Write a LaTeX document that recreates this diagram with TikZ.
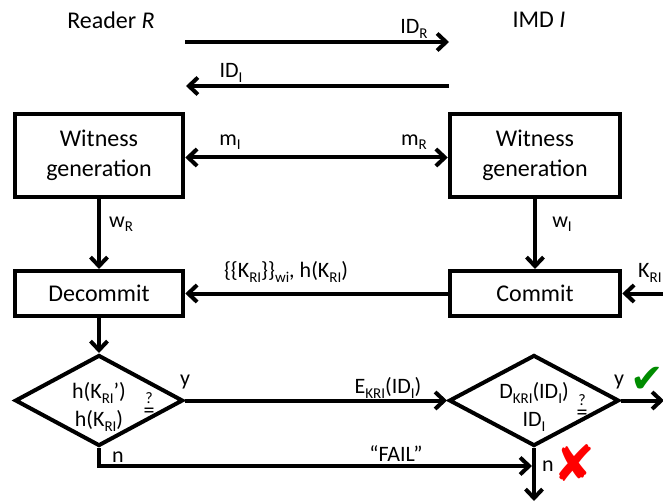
\documentclass[tikz,border=0pt]{standalone}
\usepackage{fontspec}
\setmainfont{Carlito}
\newfontfamily\symbolfont{DejaVu Sans}
\usepackage{xcolor}
\usetikzlibrary{shapes.geometric,arrows.meta,positioning,calc}
\definecolor{okgreen}{RGB}{0,140,0}
\definecolor{failred}{RGB}{255,0,0}
\newcommand{\lsub}[1]{\raisebox{-0.4ex}{\fontsize{15}{15}\selectfont #1}}

\begin{document}
\begin{tikzpicture}[x=1pt, y=-1pt,
    proc_box/.style={rectangle, draw=black, line width=4.5pt, minimum width=168pt, font=\fontsize{24}{30}\selectfont, align=center, inner sep=0pt},
    test_diamond/.style={diamond, draw=black, line width=4pt, minimum width=168pt, minimum height=91pt, inner sep=0pt},
    flow_arrow/.style={line width=4pt, -{Straight Barb[length=9pt, width=17pt]}},
    both_arrow/.style={line width=4pt, {Straight Barb[length=9pt, width=17pt]}-{Straight Barb[length=9pt, width=17pt]}},
    lbl/.style={font=\fontsize{22}{28}\selectfont, inner sep=0pt, align=center},
    qmark/.style={font=\fontsize{16}{16}\selectfont, inner sep=0pt, anchor=base},
    eqmark/.style={font=\fontsize{22}{22}\selectfont, inner sep=0pt, anchor=base},
    title/.style={font=\fontsize{24}{30}\selectfont, inner sep=0pt},
    mark_sym/.style={inner sep=0pt}
]
\useasboundingbox (0,0) rectangle (663,502);

% Parties
\node[title] (reader) at (111,20) {Reader \textit{R}};
\node[title] (imd) at (539,20) {IMD \textit{I}};

% Identity exchange
\coordinate (idR_from) at (185,42);
\coordinate (idR_to) at (449,42);
\coordinate (idI_from) at (449,86);
\coordinate (idI_to) at (186,86);
\draw[flow_arrow] (idR_from) -- (idR_to);
\draw[flow_arrow] (idI_from) -- (idI_to);
\node[lbl] (idR_lbl) at (414,29) {ID\lsub{R}};
\node[lbl] (idI_lbl) at (231,73) {ID\lsub{I}};

% Witness generation
\node[proc_box, minimum height=83pt] (wgR) at (99,155.5) {Witness\\generation};
\node[proc_box, minimum height=83pt, minimum width=170pt] (wgI) at (535,155.5) {Witness\\generation};
\draw[both_arrow] ([yshift=-2pt]wgR.east) -- ([yshift=-2pt]wgI.west);
\node[lbl] (mI_lbl) at (230,142) {m\lsub{I}};
\node[lbl] (mR_lbl) at (414,142) {m\lsub{R}};

% Commitment
\node[proc_box, minimum height=44.5pt] (decommit) at (99,293.5) {Decommit};
\node[proc_box, minimum height=44.5pt, minimum width=170pt] (commit) at (535,293.5) {Commit};
\draw[flow_arrow] (wgR.south) -- (decommit.north);
\draw[flow_arrow] (wgI.south) -- (commit.north);
\node[lbl] (wR_lbl) at (121,224) {w\lsub{R}};
\node[lbl] (wI_lbl) at (562,224) {w\lsub{I}};
\coordinate (kRI_in) at (665,293.5);
\draw[flow_arrow] (kRI_in) -- (commit.east);
\node[lbl, anchor=west] (kRI_lbl) at (638,273) {K\lsub{RI}};
\draw[flow_arrow] (commit.west) -- (decommit.east);
\node[lbl] (commit_lbl) at (286,272) {\{\{K\lsub{RI}\}\}\lsub{wi}, h(K\lsub{RI})};

% Checks
\node[test_diamond] (hchk) at (99,400.5) {};
\node[lbl] (hchk_txt) at (99,407) {h(K\lsub{RI}’)\\h(K\lsub{RI})};
\node[qmark] (hchk_q) at (149,403) {?};
\node[eqmark] (hchk_eq) at (149,417) {=};
\node[test_diamond, minimum width=170pt] (idchk) at (534,400.5) {};
\node[lbl] (idchk_txt) at (534,407) {D\lsub{KRI}(ID\lsub{I})\\ID\lsub{I}};
\node[qmark] (idchk_q) at (582,405) {?};
\node[eqmark] (idchk_eq) at (582,419) {=};
\draw[flow_arrow] (decommit.south) -- (hchk.north);

% Yes branches
\draw[flow_arrow] (hchk.east) -- (idchk.west);
\node[lbl] (hchk_y) at (185,382) {y};
\node[lbl] (enc_lbl) at (388,388) {E\lsub{KRI}(ID\lsub{I})};
\coordinate (ok_out) at (664,400.5);
\draw[flow_arrow] (idchk.east) -- (ok_out);
\node[lbl] (idchk_y) at (619,382) {y};
\node[mark_sym, font=\symbolfont\fontsize{40}{40}\selectfont, text=okgreen] (ok_mark) at (647,380) {✔};

% No branches
\coordinate (fail_to) at (532,466);
\draw[flow_arrow] (hchk.south) |- (fail_to);
\node[lbl] (hchk_n) at (118,457) {n};
\node[lbl] (fail_lbl) at (396,454) {“FAIL”};
\coordinate (fail_out) at (534,501);
\draw[flow_arrow] (idchk.south) -- (fail_out);
\node[lbl] (idchk_n) at (548,466) {n};
\node[mark_sym, font=\symbolfont\fontsize{50}{50}\selectfont, text=failred] (fail_mark) at (574,463) {✘};

\end{tikzpicture}
\end{document}
